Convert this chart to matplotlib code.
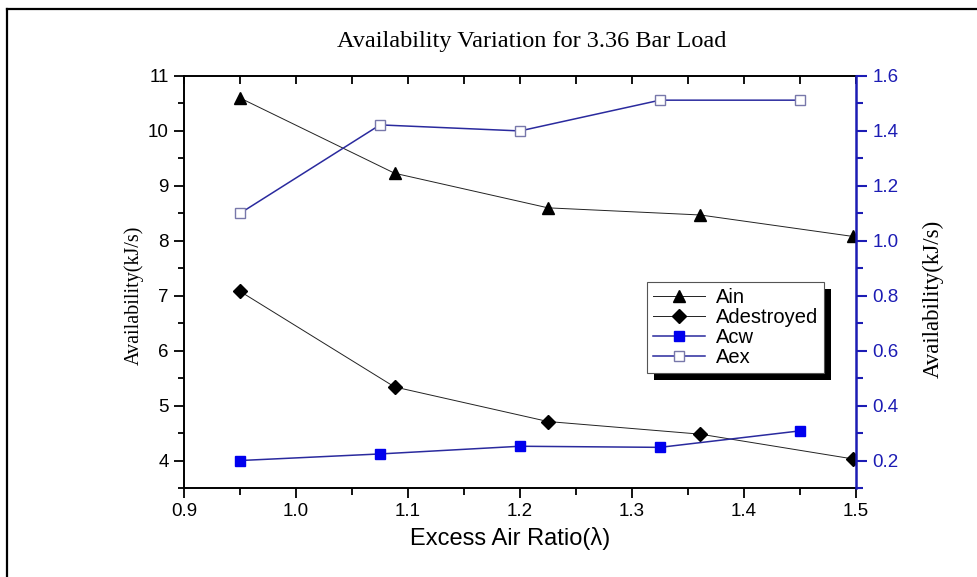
import matplotlib
matplotlib.use('Agg')
import matplotlib.pyplot as plt
from matplotlib.lines import Line2D
from matplotlib.patches import Rectangle
from matplotlib.ticker import MultipleLocator

# Data
x_ain = [0.95, 1.088, 1.225, 1.361, 1.497]
ain = [10.60, 9.23, 8.60, 8.47, 8.08]
adestroyed = [7.08, 5.34, 4.71, 4.48, 4.03]

x_ex = [0.95, 1.075, 1.20, 1.325, 1.45]
acw = [0.200, 0.224, 0.252, 0.248, 0.308]
aex = [1.100, 1.422, 1.400, 1.512, 1.512]

blue_axis = '#1c1cb4'
blue_line = '#2a2a9e'

plt.rcParams['font.family'] = ['Liberation Sans', 'DejaVu Sans']

fig = plt.figure(figsize=(9.77, 5.77), dpi=100)
ax = fig.add_axes([184 / 977, 1 - 488 / 577, 672 / 977, 412 / 577])
ax2 = ax.twinx()

# left axis series
l1, = ax.plot(x_ain, ain, color='#222222', lw=0.7, marker='^', ms=9,
              mfc='black', mec='black', label='Ain')
l2, = ax.plot(x_ain, adestroyed, color='#222222', lw=0.7, marker='D', ms=7.5,
              mfc='black', mec='black', label='Adestroyed')
# right axis series
l3, = ax2.plot(x_ex, acw, color=blue_line, lw=1.1, marker='s', ms=7,
               mfc='#0000ee', mec='#0000ee', label='Acw')
l4, = ax2.plot(x_ex, aex, color=blue_line, lw=1.1, marker='s', ms=7,
               mfc='white', mec='#7878aa', mew=1.0, label='Aex')

ax.set_xlim(0.9, 1.5)
ax.set_ylim(3.5, 11)
ax2.set_ylim(0.1, 1.6)

ax.xaxis.set_major_locator(MultipleLocator(0.1))
ax.xaxis.set_minor_locator(MultipleLocator(0.05))
ax.yaxis.set_major_locator(MultipleLocator(1))
ax.yaxis.set_minor_locator(MultipleLocator(0.5))
ax2.yaxis.set_major_locator(MultipleLocator(0.2))
ax2.yaxis.set_minor_locator(MultipleLocator(0.1))
ax.xaxis.set_major_formatter(plt.FormatStrFormatter('%.1f'))
ax2.yaxis.set_major_formatter(plt.FormatStrFormatter('%.1f'))

ax.tick_params(axis='x', which='major', direction='out', length=7, width=1.3,
               labelsize=13.5, pad=4, top=False)
ax.tick_params(axis='x', which='minor', direction='out', length=5, width=1.3, top=False)
ax.tick_params(axis='y', which='major', direction='out', length=7, width=1.3,
               labelsize=13.5, pad=4)
ax.tick_params(axis='y', which='minor', direction='out', length=4, width=1.3)
ax2.tick_params(axis='y', which='major', direction='out', length=8, width=1.5,
                labelsize=13.5, colors=blue_axis, pad=4)
ax2.tick_params(axis='y', which='minor', direction='out', length=5, width=1.5,
                colors=blue_axis)

# top axis: inward ticks every 0.05, no labels
secx = ax.secondary_xaxis('top')
secx.xaxis.set_major_locator(MultipleLocator(0.05))
secx.tick_params(axis='x', direction='in', length=6, width=1.3, labeltop=False)
secx.spines['top'].set_visible(False)

for s in ['left', 'bottom', 'top']:
    ax.spines[s].set_linewidth(1.4)
    ax2.spines[s].set_visible(False)
ax.spines['right'].set_visible(False)
ax2.spines['right'].set_color(blue_axis)
ax2.spines['right'].set_linewidth(1.8)

# texts
fig.text(532 / 977, 1 - 42 / 577, 'Availability Variation for 3.36 Bar Load',
         family='Liberation Serif', fontsize=17.5, ha='center', va='center')
fig.text(510 / 977, 1 - 538 / 577, 'Excess Air Ratio(\u03bb)',
         fontsize=17, ha='center', va='center')
fig.text(134 / 977, 1 - 295 / 577, 'Availability(kJ/s)', family='Liberation Serif',
         fontsize=14.5, rotation=90, ha='center', va='center')
fig.text(933 / 977, 1 - 299 / 577, 'Availability(kJ/s)', family='Liberation Serif',
         fontsize=16.5, rotation=90, ha='center', va='center')

# legend with hard black shadow
leg = ax2.legend(handles=[l1, l2, l3, l4], loc='upper left',
                 bbox_to_anchor=(0.689, 0.5), borderaxespad=0, fancybox=False,
                 fontsize=14.5, handlelength=2.6, handletextpad=0.5,
                 labelspacing=0.05, borderpad=0.3, framealpha=1)
leg.get_frame().set_edgecolor('#555555')
leg.get_frame().set_linewidth(0.8)
leg.set_zorder(10)

fig.canvas.draw()
bb = leg.get_window_extent()
shadow = Rectangle((bb.x0 + 7, bb.y0 - 7), bb.width, bb.height,
                   transform=None, facecolor='black', edgecolor='none',
                   zorder=9, clip_on=False)
ax2.add_artist(shadow)

# outer border (top and left edges visible)
fig.add_artist(Line2D([7 / 977, 7 / 977], [0, 1 - 9 / 577], color='black', lw=1.6))
fig.add_artist(Line2D([7 / 977, 1], [1 - 9 / 577, 1 - 9 / 577], color='black', lw=1.6))

fig.savefig('out.png', dpi=100)
